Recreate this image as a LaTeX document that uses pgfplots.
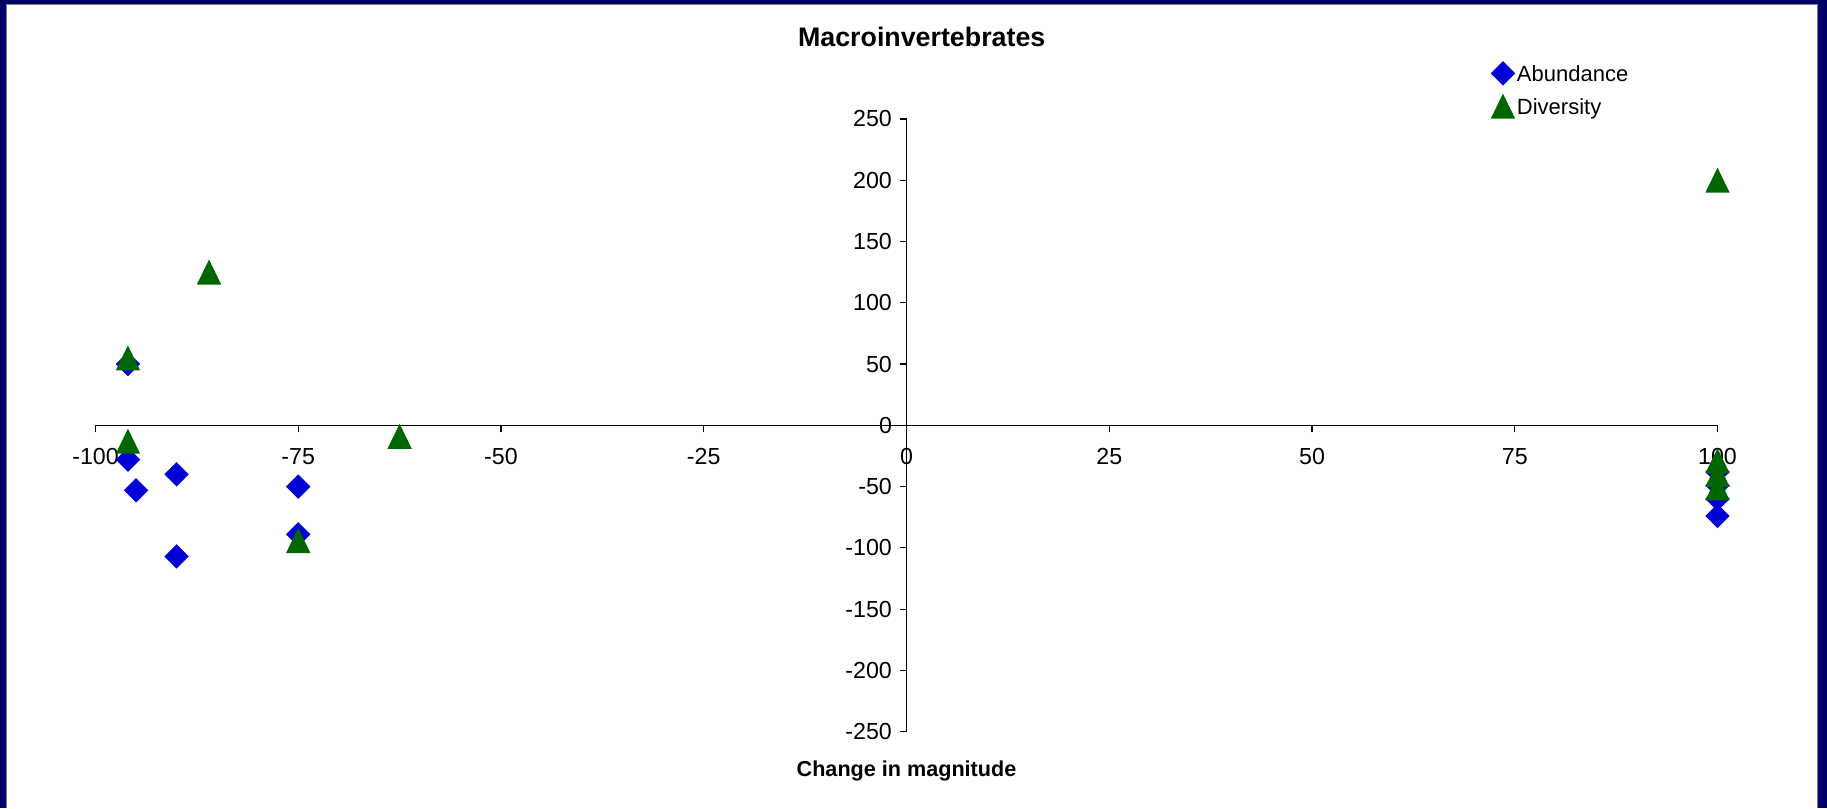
\documentclass[border=0pt]{standalone}
\usepackage{pgfplots}
\pgfplotsset{compat=1.18}
\usepackage{fontspec}
\setmainfont{Liberation Sans}

\definecolor{abund}{RGB}{0,0,214}
\definecolor{divers}{RGB}{0,102,0}
\definecolor{framenavy}{RGB}{0,0,102}

% Filled diamond and triangle markers, centred on their bounding boxes
\pgfdeclareplotmark{xldiamond}{%
  \pgfpathmoveto{\pgfqpoint{0pt}{6.1pt}}%
  \pgfpathlineto{\pgfqpoint{6.1pt}{0pt}}%
  \pgfpathlineto{\pgfqpoint{0pt}{-6.1pt}}%
  \pgfpathlineto{\pgfqpoint{-6.1pt}{0pt}}%
  \pgfpathclose\pgfusepathqfill}
\pgfdeclareplotmark{xltriangle}{%
  \pgfpathmoveto{\pgfqpoint{0pt}{6.25pt}}%
  \pgfpathlineto{\pgfqpoint{6.1pt}{-6.25pt}}%
  \pgfpathlineto{\pgfqpoint{-6.1pt}{-6.25pt}}%
  \pgfpathclose\pgfusepathqfill}

\begin{document}
\begin{tikzpicture}
% chart area with navy frame
\fill[framenavy] (0,0) rectangle (913.5pt,-404pt);
\fill[white] (2.85pt,-1.75pt) rectangle (909pt,-404pt);
\draw[gray, line width=0.4pt] (3.05pt,-404pt) -- (3.05pt,-1.95pt) -- (908.8pt,-1.95pt) -- (908.8pt,-404pt);

\begin{axis}[
  at={(47.75pt,-365.85pt)}, anchor=south west,
  scale only axis, width=811pt, height=306.4pt,
  xmin=-100, xmax=100, ymin=-250, ymax=250,
  enlargelimits=false, clip=false,
  axis lines=middle,
  axis line style={-, black, line width=0.75pt},
  tick align=outside, major tick length=3.5pt,
  tick style={black, line width=0.6pt},
  minor tick num=0,
  xtick={-100,-75,-50,-25,0,25,50,75,100},
  xticklabels={-100,-75,-50,-25,0,25,50,75,100},
  ytick={-250,-200,-150,-100,-50,0,50,100,150,200,250},
  yticklabels={-250,-200,-150,-100,-50,0,50,100,150,200,250},
  hide obscured x ticks=false, hide obscured y ticks=false,
  xticklabel style={anchor=center, inner sep=0pt, yshift=-12pt,
    font=\fontsize{11.6}{13}\selectfont},
  yticklabel style={anchor=east, inner sep=0pt, xshift=-3.6pt,
    font=\fontsize{11.6}{13}\selectfont},
  legend style={draw=none, fill=none, at={(0.8602,1.0942)}, anchor=north west,
    inner sep=0pt, outer sep=0pt, row sep=3.9pt, column sep=0.4pt,
    nodes={inner sep=0.5pt}, font=\fontsize{11}{13}\selectfont},
  legend cell align=left,
  legend image code/.code={\draw[#1] plot coordinates {(0pt,1.0pt)};},
]
\addplot[only marks, mark=xldiamond, color=abund] coordinates {
  (-96,50) (-96,-28) (-95,-53) (-90,-40) (-90,-107)
  (-75,-50) (-75,-89)
  (100,-38) (100,-49) (100,-60) (100,-74)
};
\addlegendentry{Abundance}
\addplot[only marks, mark=xltriangle, color=divers] coordinates {
  (-96,55) (-96,-13) (-86,125) (-62.5,-9) (-75,-94)
  (100,200) (100,-29) (100,-40) (100,-51)
};
\addlegendentry{Diversity}
\end{axis}

\node[font=\fontsize{13.4}{16}\selectfont\bfseries] at (460.85pt,-18.65pt) {Macroinvertebrates};
\node[font=\fontsize{10.8}{13}\selectfont\bfseries] at (453.25pt,-385.5pt) {Change in magnitude};
\end{tikzpicture}
\end{document}
